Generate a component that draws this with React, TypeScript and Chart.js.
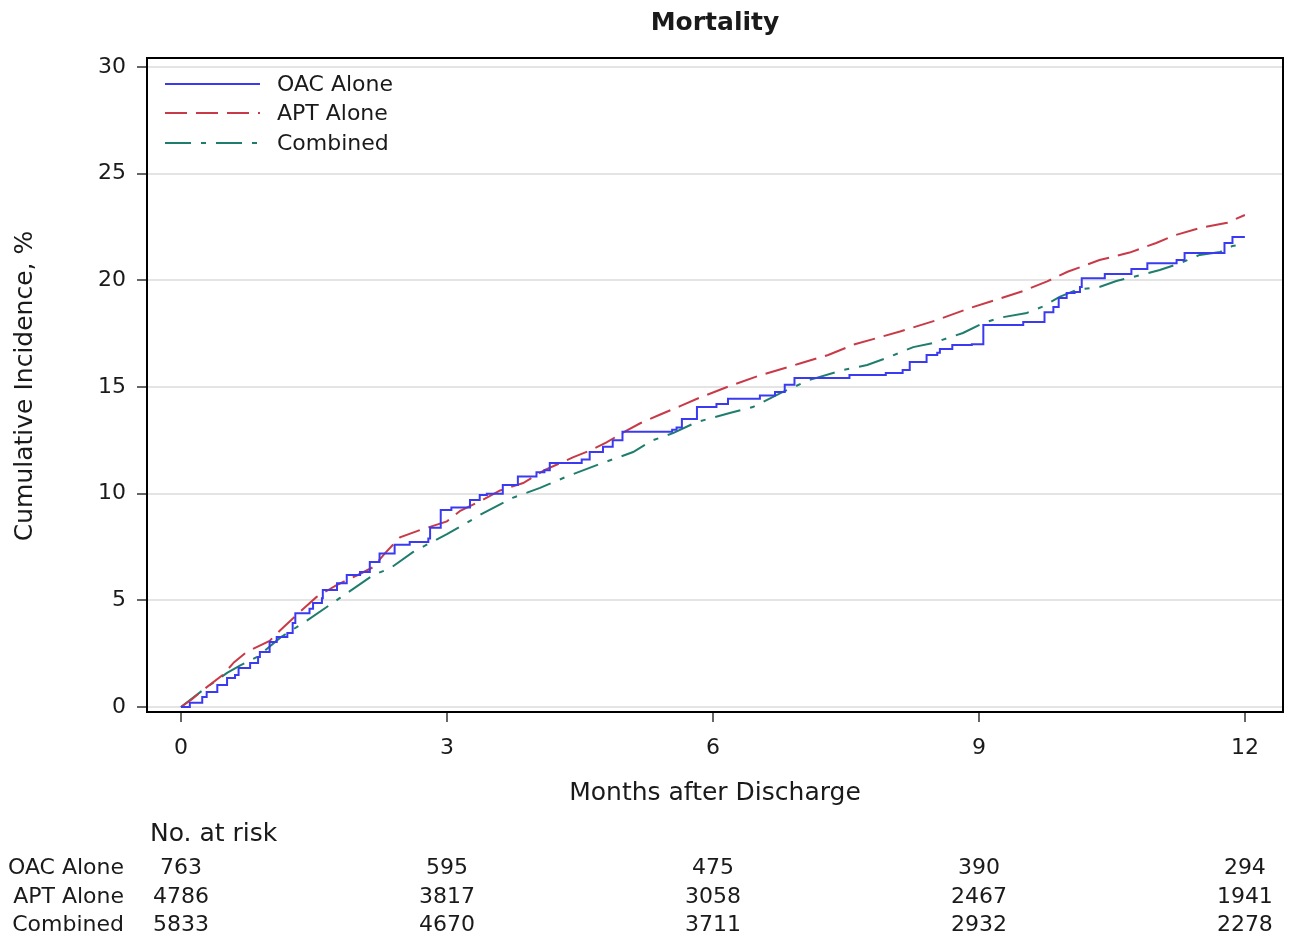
import React, { useEffect, useRef } from "react";
import { Chart, registerables } from "chart.js";

Chart.register(...registerables);

// ---------- data ----------
const chartTitle = "Mortality";
const xAxisTitle = "Months after Discharge";
const yAxisTitle = "Cumulative Incidence, %";
const seriesNames = ["OAC Alone", "APT Alone", "Combined"];

const xTickValues = [0, 3, 6, 9, 12];
const yTickValues = [0, 5, 10, 15, 20, 25, 30];

// OAC Alone (step curve)
const oacTimes = [
  0, 0.1, 0.24, 0.29, 0.41, 0.52, 0.61, 0.65, 0.78, 0.87, 0.89, 1.0, 1.08, 1.2, 1.26, 1.29, 1.45, 1.49,
  1.59, 1.6, 1.76, 1.87, 2.02, 2.13, 2.24, 2.41, 2.58, 2.79, 2.81, 2.93, 3.05, 3.26, 3.37, 3.45, 3.63,
  3.8, 4.01, 4.1, 4.16, 4.52, 4.61, 4.76, 4.87, 4.98, 5.54, 5.59, 5.65, 5.82, 6.04, 6.17, 6.53, 6.7,
  6.81, 6.92, 7.54, 7.95, 8.14, 8.22, 8.41, 8.53, 8.56, 8.7, 8.92, 9.05, 9.5, 9.74, 9.84, 9.9, 9.99,
  10.08, 10.14, 10.16, 10.42, 10.72, 10.9, 11.23, 11.32, 11.77, 11.86, 12.0,
];
const oacValues = [
  0, 0.2, 0.47, 0.7, 1.03, 1.36, 1.5, 1.83, 2.06, 2.34, 2.58, 3.05, 3.28, 3.47, 3.94, 4.4, 4.6, 4.87,
  5.1, 5.48, 5.8, 6.19, 6.33, 6.8, 7.2, 7.6, 7.73, 7.9, 8.4, 9.23, 9.35, 9.7, 9.94, 10.0, 10.4,
  10.8, 11.0, 11.1, 11.44, 11.6, 11.95, 12.2, 12.5, 12.9, 13.0, 13.1, 13.5, 14.06, 14.2, 14.45, 14.6, 14.77,
  15.1, 15.42, 15.56, 15.65, 15.8, 16.17, 16.5, 16.6, 16.78, 16.97, 17.0, 17.9, 18.05, 18.5, 18.75, 19.17, 19.4,
  19.45, 19.69, 20.1, 20.3, 20.53, 20.8, 20.95, 21.28, 21.75, 22.03, 22.03,
];

// APT Alone
const aptTimes = [
  0, 0.12, 0.25, 0.47, 0.6, 0.74, 1.0, 1.12, 1.3, 1.53, 1.75, 2.0, 2.17, 2.3, 2.47, 2.7, 3.0, 3.15, 3.4,
  3.6, 3.86, 4.1, 4.42, 4.6, 4.8, 5.0, 5.18, 5.4, 5.63, 5.85, 6.16, 6.5, 6.98, 7.3, 7.6, 8.11, 8.5, 8.9,
  9.24, 9.5, 9.77, 10.0, 10.36, 10.7, 11.0, 11.2, 11.49, 11.8, 12.0,
];
const aptValues = [
  0, 0.35, 0.8, 1.5, 2.1, 2.58, 3.1, 3.6, 4.3, 5.16, 5.7, 6.2, 6.56, 7.2, 7.95, 8.3, 8.7, 9.2, 9.7,
  10.15, 10.5, 11.1, 11.7, 12.0, 12.4, 12.9, 13.3, 13.7, 14.1, 14.5, 15.0, 15.5, 16.1, 16.5, 17.0, 17.6, 18.1, 18.7,
  19.15, 19.5, 19.95, 20.4, 20.95, 21.3, 21.75, 22.1, 22.45, 22.7, 23.06,
];

// Combined
const combTimes = [
  0, 0.25, 0.52, 0.67, 0.86, 1.12, 1.42, 1.79, 2.17, 2.36, 2.62, 2.81, 3.0, 3.18, 3.41, 3.74, 4.05, 4.35,
  4.69, 5.1, 5.32, 5.55, 5.82, 6.19, 6.45, 6.79, 7.09, 7.47, 7.74, 7.96, 8.26, 8.48, 8.82, 9.05, 9.24, 9.54,
  9.72, 9.91, 10.1, 10.36, 10.55, 10.74, 11.04, 11.27, 11.49, 11.72, 11.86, 12.0,
];
const combValues = [
  0, 0.8, 1.6, 1.95, 2.35, 3.25, 4.05, 5.1, 6.19, 6.5, 7.27, 7.69, 8.1, 8.53, 9.09, 9.8, 10.27, 10.8,
  11.34, 11.95, 12.5, 12.84, 13.36, 13.78, 14.06, 14.77, 15.33, 15.8, 16.03, 16.36, 16.87, 17.06, 17.53, 18.0, 18.25, 18.47,
  18.77, 19.22, 19.55, 19.69, 19.97, 20.16, 20.48, 20.8, 21.19, 21.33, 21.61, 21.7,
];

// Number at risk
const atRiskTitle = "No. at risk";
const atRiskTimes = [0, 3, 6, 9, 12];
const oacAtRisk = [763, 595, 475, 390, 294];
const aptAtRisk = [4786, 3817, 3058, 2467, 1941];
const combAtRisk = [5833, 4670, 3711, 2932, 2278];

// ---------- styles ----------
const BLUE = "#3a3af0";
const RED = "#c83a48";
const GREEN = "#1f7d6e";
const DASH_RED = [22, 9];
const DASH_GREEN = [26, 10, 5, 10];
const FONT = "'DejaVu Sans', sans-serif";
const TEXT = "#1a1a1a";

const toPoints = (t: number[], v: number[]) => t.map((x, i) => ({ x, y: v[i] }));

export default function App() {
  const ref = useRef<HTMLCanvasElement>(null);

  useEffect(() => {
    const canvas = ref.current;
    if (!canvas) return;

    const decor = {
      id: "decor",
      afterDraw(chart: any) {
        const ctx = chart.ctx as CanvasRenderingContext2D;
        const area = chart.chartArea;
        const xs = chart.scales.x;
        ctx.save();

        // plot frame
        ctx.strokeStyle = "#000";
        ctx.lineWidth = 2;
        ctx.setLineDash([]);
        ctx.strokeRect(area.left, area.top, area.right - area.left, area.bottom - area.top);

        // title
        ctx.fillStyle = TEXT;
        ctx.textAlign = "center";
        ctx.textBaseline = "middle";
        ctx.font = `bold 25px ${FONT}`;
        ctx.fillText(chartTitle, (area.left + area.right) / 2, 23);

        // axis titles
        ctx.font = `25px ${FONT}`;
        ctx.fillText(xAxisTitle, (area.left + area.right) / 2, 793);
        ctx.save();
        ctx.translate(25, 386);
        ctx.rotate(-Math.PI / 2);
        ctx.fillText(yAxisTitle, 0, 0);
        ctx.restore();

        // legend
        const colors = [BLUE, RED, GREEN];
        const dashes = [[], DASH_RED, DASH_GREEN];
        const legendY = [84, 113, 143];
        seriesNames.forEach((name, i) => {
          ctx.strokeStyle = colors[i];
          ctx.lineWidth = 2;
          ctx.setLineDash(dashes[i]);
          ctx.beginPath();
          ctx.moveTo(165, legendY[i]);
          ctx.lineTo(260, legendY[i]);
          ctx.stroke();
          ctx.setLineDash([]);
          ctx.fillStyle = TEXT;
          ctx.textAlign = "left";
          ctx.font = `22px ${FONT}`;
          ctx.fillText(name, 277, legendY[i] + 1);
        });

        // number at risk table
        ctx.fillStyle = TEXT;
        ctx.textAlign = "left";
        ctx.font = `25px ${FONT}`;
        ctx.fillText(atRiskTitle, 150, 834);
        const rows = [oacAtRisk, aptAtRisk, combAtRisk];
        const rowY = [868, 897, 925];
        rows.forEach((vals, r) => {
          ctx.textAlign = "right";
          ctx.font = `22px ${FONT}`;
          ctx.fillText(seriesNames[r], 124, rowY[r]);
          ctx.textAlign = "center";
          vals.forEach((v, j) => {
            ctx.fillText(String(v), xs.getPixelForValue(atRiskTimes[j]), rowY[r]);
          });
        });
        ctx.restore();
      },
    };

    const chart = new Chart(canvas, {
      type: "line",
      data: {
        datasets: [
          {
            label: seriesNames[0],
            data: toPoints(oacTimes, oacValues),
            borderColor: BLUE,
            borderWidth: 2,
            stepped: "before",
            pointRadius: 0,
            fill: false,
          },
          {
            label: seriesNames[1],
            data: toPoints(aptTimes, aptValues),
            borderColor: RED,
            borderWidth: 2,
            borderDash: DASH_RED,
            pointRadius: 0,
            tension: 0,
            fill: false,
          },
          {
            label: seriesNames[2],
            data: toPoints(combTimes, combValues),
            borderColor: GREEN,
            borderWidth: 2,
            borderDash: DASH_GREEN,
            pointRadius: 0,
            tension: 0,
            fill: false,
          },
        ],
      },
      options: {
        animation: false,
        responsive: false,
        devicePixelRatio: 1,
        layout: { padding: { top: 58, right: 12, left: 0, bottom: 0 } },
        plugins: {
          legend: { display: false },
          title: { display: false },
          tooltip: { enabled: false },
        },
        scales: {
          x: {
            type: "linear",
            min: -0.383,
            max: 12.43,
            afterBuildTicks: (s: any) => {
              s.ticks = xTickValues.map((v) => ({ value: v }));
            },
            afterFit: (s: any) => {
              s.height = 231;
            },
            grid: { drawOnChartArea: false, tickLength: 10, tickColor: "#666", lineWidth: 2 },
            border: { display: false },
            ticks: {
              font: { family: FONT, size: 22 },
              color: TEXT,
              padding: 13,
              maxRotation: 0,
              autoSkip: false,
            },
          },
          y: {
            type: "linear",
            min: -0.234,
            max: 30.42,
            afterBuildTicks: (s: any) => {
              s.ticks = yTickValues.map((v) => ({ value: v }));
            },
            afterFit: (s: any) => {
              s.width = 147;
            },
            grid: { color: "#e4e4e4", lineWidth: 2, tickLength: 10, tickColor: "#666" },
            border: { display: false },
            ticks: {
              font: { family: FONT, size: 22 },
              color: TEXT,
              padding: 11,
              autoSkip: false,
            },
          },
        },
      },
      plugins: [decor],
    });

    return () => chart.destroy();
  }, []);

  return (
    <div style={{ position: "absolute", left: 0, top: 0, width: 1295, height: 943, background: "#fff" }}>
      <canvas ref={ref} width={1295} height={943} style={{ display: "block" }} />
    </div>
  );
}
